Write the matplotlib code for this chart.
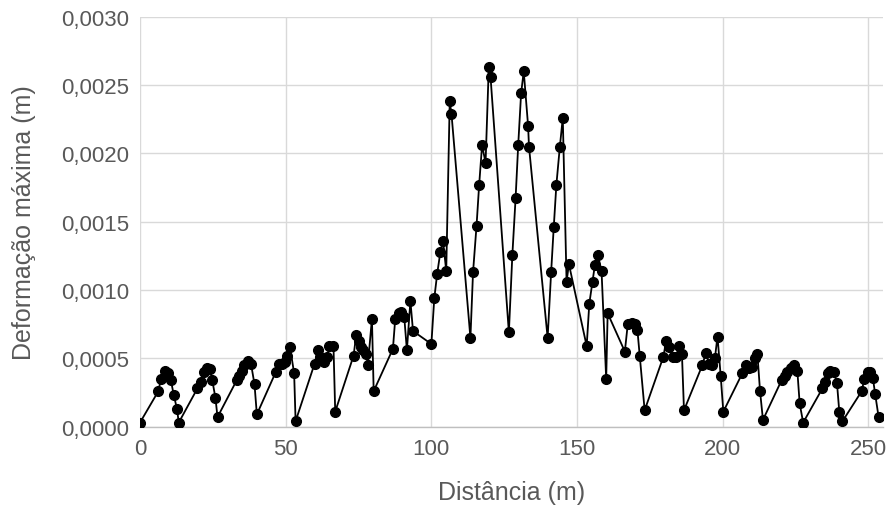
import matplotlib
matplotlib.use("Agg")
import matplotlib.pyplot as plt
from matplotlib.ticker import FuncFormatter, MultipleLocator

distancia = [
    0, 6.3, 7.2, 8.6, 9.7, 10.6, 11.6, 12.7, 13.3,
    19.7, 20.8, 22.0, 22.9, 24.0, 24.8, 25.9, 26.6,
    33.2, 34.1, 34.9, 35.8, 37.2, 38.1, 39.3, 40.1,
    46.6, 47.8, 48.9, 49.8, 50.6, 51.5, 52.9, 53.4,
    59.9, 61.1, 61.9, 63.0, 64.2, 65.0, 66.4, 67.0,
    73.3, 74.2, 75.1, 75.9, 76.7, 77.7, 78.2, 79.6, 80.2,
    86.8, 87.6, 88.8, 89.7, 90.7, 91.6, 92.8, 93.7,
    100.0, 101.0, 102.0, 103.1, 104.0, 105.1, 106.3, 106.9,
    113.4, 114.3, 115.5, 116.4, 117.4, 118.6, 119.7, 120.3,
    126.6, 127.8, 128.9, 129.8, 130.8, 131.7, 133.2, 133.5,
    139.9, 141.1, 142.0, 142.9, 144.1, 145.1, 146.4, 147.2,
    153.3, 154.2, 155.3, 156.1, 157.1, 158.4, 160.0, 160.5,
    166.4, 167.4, 168.7, 169.9, 170.7, 171.5, 173.2,
    179.6, 180.6, 181.7, 182.9, 184.0, 184.9, 186.0, 186.7,
    193.0, 194.2, 195.3, 196.4, 197.3, 198.2, 199.3, 200.2,
    206.7, 207.9, 209.0, 210.2, 211.0, 211.9, 212.8, 213.8,
    220.2, 221.2, 222.2, 223.3, 224.5, 225.6, 226.4, 227.6,
    234.2, 235.1, 236.0, 236.9, 238.1, 239.2, 240.0, 241.1,
    247.7, 248.6, 249.7, 250.7, 251.5, 252.3, 253.5,
]

deformacao = [
    0.00003, 0.00026, 0.00035, 0.00041, 0.00039, 0.00034, 0.00023, 0.00013, 0.00003,
    0.00028, 0.00033, 0.00040, 0.00043, 0.00042, 0.00034, 0.00021, 0.00007,
    0.00034, 0.00037, 0.00041, 0.00045, 0.00048, 0.00046, 0.00031, 0.00009,
    0.00040, 0.00046, 0.00046, 0.00047, 0.00052, 0.00058, 0.00039, 0.00004,
    0.00046, 0.00056, 0.00051, 0.00047, 0.00051, 0.00059, 0.00059, 0.00011,
    0.00052, 0.00067, 0.00063, 0.00058, 0.00056, 0.00053, 0.00045, 0.00079, 0.00026,
    0.00057, 0.00079, 0.00083, 0.00084, 0.00080, 0.00056, 0.00092, 0.00070,
    0.000605, 0.00094, 0.00112, 0.00128, 0.00136, 0.00114, 0.00238, 0.00229,
    0.00065, 0.00113, 0.00147, 0.00177, 0.00206, 0.00193, 0.00263, 0.00256,
    0.00069, 0.00126, 0.00167, 0.00206, 0.00244, 0.00260, 0.00220, 0.00205,
    0.00065, 0.00113, 0.00146, 0.00177, 0.00205, 0.00226, 0.00106, 0.00119,
    0.00059, 0.00090, 0.00106, 0.00118, 0.00126, 0.00114, 0.00035, 0.00083,
    0.00055, 0.00075, 0.00076, 0.00075, 0.00071, 0.00052, 0.00012,
    0.00051, 0.00063, 0.00058, 0.00051, 0.00051, 0.00059, 0.00053, 0.00012,
    0.00045, 0.00054, 0.00046, 0.00045, 0.00050, 0.00066, 0.00037, 0.00011,
    0.00039, 0.00045, 0.00043, 0.00044, 0.00050, 0.00053, 0.00026, 0.00005,
    0.00034, 0.00037, 0.00040, 0.00043, 0.00045, 0.00041, 0.00017, 0.00003,
    0.00028, 0.00033, 0.00039, 0.00041, 0.00040, 0.00032, 0.00011, 0.00004,
    0.00026, 0.00035, 0.00040, 0.00040, 0.00036, 0.00024, 0.00007,
]

x_ticks = [0, 50, 100, 150, 200, 250]
x_label = "Distância (m)"
y_label = "Deformação máxima (m)"

plt.rcParams['font.family'] = ['Liberation Sans', 'DejaVu Sans']

fig = plt.figure(figsize=(8.94, 5.10), dpi=100)
ax = fig.add_axes([140 / 894, 1 - 427.7 / 510, (883 - 140) / 894, (427.7 - 17.7) / 510])

ax.plot(distancia, deformacao, color='black', linewidth=1.3,
        marker='o', markersize=7, markerfacecolor='black',
        markeredgecolor='black', zorder=3)

ax.set_xlim(0, 255)
ax.set_ylim(0, 0.003)
ax.set_xticks(x_ticks)
ax.yaxis.set_major_locator(MultipleLocator(0.0005))
ax.yaxis.set_major_formatter(FuncFormatter(lambda v, p: f"{v:.4f}".replace('.', ',')))

ax.grid(True, color='#d9d9d9', linewidth=1.0, zorder=0)
ax.set_axisbelow(True)
for s in ['top', 'right', 'left']:
    ax.spines[s].set_visible(False)
ax.spines['bottom'].set_color('#bfbfbf')
ax.spines['bottom'].set_linewidth(1.0)

ax.tick_params(axis='both', length=0, labelsize=16, labelcolor='#595959', pad=8)
ax.set_xlabel(x_label, fontsize=18, color='#595959', labelpad=15)
ax.set_ylabel(y_label, fontsize=18, color='#595959', labelpad=18)

fig.savefig('out.png', dpi=100)
